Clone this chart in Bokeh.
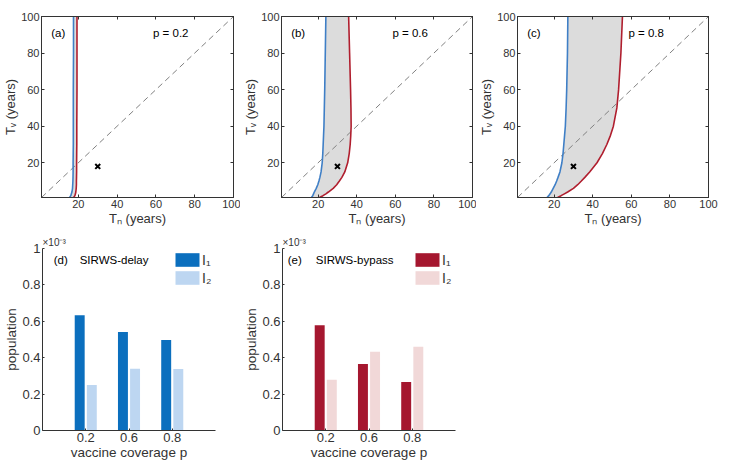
from bokeh.plotting import figure
from bokeh.layouts import column, row
from bokeh.models import (Range1d, LinearAxis, FixedTicker, Label, Legend, LegendItem,
                          NumeralTickFormatter, ColumnDataSource)
from bokeh.transform import dodge
from bokeh.embed import file_html
from bokeh.resources import INLINE

# ---------------- data ----------------
T_GRID = [1, 2, 3, 4, 6, 8, 10, 12, 15, 20, 25, 30, 35, 40, 50, 60, 80, 100]   # T_v (years)
BLUE_A = [15.5, 16.1, 16.4, 16.7, 17.0, 17.1, 17.2, 17.25, 17.3, 17.3, 17.35, 17.4, 17.4,
          17.4, 17.4, 17.4, 17.5, 17.5]
RED_A = [17.6, 18.2, 18.5, 18.7, 18.9, 19.0, 19.0, 19.05, 19.1, 19.1, 19.15, 19.2, 19.2,
         19.2, 19.25, 19.3, 19.3, 19.3]
BLUE_B = [16.5, 17.2, 17.6, 18.0, 19.0, 19.8, 20.4, 20.9, 21.5, 22.1, 22.4, 22.6, 22.8,
          23.0, 23.2, 23.4, 23.7, 24.0]
RED_B = [20.7, 22.5, 24.0, 25.3, 27.8, 29.6, 31.0, 32.3, 33.8, 35.3, 36.1, 36.6, 36.9,
         37.1, 37.0, 36.8, 36.3, 35.8]
BLUE_C = [16.3, 17.2, 17.9, 18.5, 19.5, 20.5, 21.3, 22.0, 23.0, 24.0, 24.6, 25.0, 25.4,
          25.8, 26.2, 26.5, 26.9, 27.1]
RED_C = [21.8, 23.6, 25.3, 27.0, 30.0, 32.2, 34.1, 35.9, 38.4, 42.2, 45.0, 47.3, 49.2,
         50.7, 52.5, 53.4, 54.6, 55.4]
PANEL_TAGS = ["(a)", "(b)", "(c)"]
P_TEXTS = ["p = 0.2", "p = 0.6", "p = 0.8"]
MARK_TN = [30]
MARK_TV = [18]
DIAG = [1, 100]
TOP_TICKS = [20, 40, 60, 80, 100]

COVERAGE = ["0.2", "0.6", "0.8"]
DELAY_I1 = [0.633, 0.541, 0.497]
DELAY_I2 = [0.250, 0.339, 0.338]
BYPASS_I1 = [0.578, 0.365, 0.266]
BYPASS_I2 = [0.279, 0.433, 0.460]
POP_TICKS = [0, 0.2, 0.4, 0.6, 0.8, 1]

FONT = "Liberation Sans"
AXC = "#333333"
BLUE_LINE = "#3f7fc6"
RED_LINE = "#b01e2e"


def style_axis(ax, size="11px"):
    ax.major_label_text_font = FONT
    ax.major_label_text_font_size = size
    ax.major_label_text_color = AXC
    ax.axis_label_text_font = FONT
    ax.axis_label_text_font_style = "normal"
    ax.axis_label_text_color = AXC
    ax.axis_line_color = AXC
    ax.major_tick_line_color = AXC
    ax.major_tick_in = 3
    ax.major_tick_out = 0
    ax.minor_tick_line_color = None
    ax.major_label_standoff = 2
    ax.axis_label_standoff = 0


def top_panel(blue, red, tag, ptext, bl, br, w):
    p = figure(width=w, height=228, x_range=Range1d(1, 100), y_range=Range1d(1, 100),
               output_backend="svg", toolbar_location=None,
               min_border_left=bl, min_border_right=br, min_border_top=16, min_border_bottom=30)
    p.grid.visible = False
    p.outline_line_color = AXC
    p.outline_line_width = 1
    p.xaxis.ticker = FixedTicker(ticks=TOP_TICKS)
    p.yaxis.ticker = FixedTicker(ticks=TOP_TICKS)
    p.xaxis.axis_label = "Tₙ (years)"
    p.yaxis.axis_label = "Tᵥ (years)"
    for ax in p.xaxis + p.yaxis:
        style_axis(ax)
        ax.axis_label_text_font_size = "13px"
    for side in ("above", "right"):
        ax = LinearAxis(ticker=FixedTicker(ticks=TOP_TICKS))
        style_axis(ax)
        ax.major_label_text_font_size = "1px"
        ax.major_label_text_color = None
        ax.major_label_standoff = 0
        p.add_layout(ax, side)

    p.harea(y=T_GRID, x1=blue, x2=red, fill_color="#dcdcdc", fill_alpha=1)
    p.line(DIAG, DIAG, line_color="#808080", line_dash="6 4", line_width=1)
    p.line(blue, T_GRID, line_color=BLUE_LINE, line_width=1.6)
    p.line(red, T_GRID, line_color=RED_LINE, line_width=1.6)
    p.scatter(MARK_TN, MARK_TV, marker="x", size=7, line_width=2, line_color="black")
    p.add_layout(Label(x=6, y=91, text=tag, text_baseline="middle", text_font=FONT,
                       text_font_size="11.5px", text_color="black"))
    p.add_layout(Label(x=58.5, y=91, text=ptext, text_baseline="middle", text_font=FONT,
                       text_font_size="11.5px", text_color="black"))
    return p


def bar_panel(i1, i2, c1, c2, tag, title, tag_x, title_x, bl, br, w):
    xs = list(range(1, len(COVERAGE) + 1))
    src = ColumnDataSource(dict(x=xs, i1=i1, i2=i2))
    p = figure(width=w, height=234, x_range=Range1d(0, len(COVERAGE) + 1), y_range=Range1d(0, 1),
               output_backend="svg", toolbar_location=None,
               min_border_left=bl, min_border_right=br, min_border_top=20, min_border_bottom=32)
    p.title.text = "×10⁻³"
    p.title.align = "left"
    p.title.text_font = FONT
    p.title.text_font_size = "10px"
    p.title.text_font_style = "normal"
    p.title.text_color = AXC
    p.title.standoff = 2
    p.title.offset = 0
    p.grid.visible = False
    p.outline_line_color = None
    p.xaxis.ticker = FixedTicker(ticks=xs)
    p.xaxis.major_label_overrides = {x: c for x, c in zip(xs, COVERAGE)}
    p.yaxis.ticker = FixedTicker(ticks=POP_TICKS)
    p.yaxis.formatter = NumeralTickFormatter(format="0.[0]")
    p.xaxis.axis_label = "vaccine coverage p"
    p.yaxis.axis_label = "population"
    for ax in p.xaxis + p.yaxis:
        style_axis(ax, "13px")
        ax.major_tick_in = 2
        ax.axis_label_text_font_size = "13.5px"
    r1 = p.vbar(x=dodge("x", -0.14), top="i1", width=0.23, source=src,
                fill_color=c1, line_color=None)
    r2 = p.vbar(x=dodge("x", 0.14), top="i2", width=0.23, source=src,
                fill_color=c2, line_color=None)
    leg = Legend(items=[LegendItem(label="I₁", renderers=[r1]),
                        LegendItem(label="I₂", renderers=[r2])],
                 location=(130, 144), border_line_color=None, background_fill_alpha=0,
                 glyph_width=30, glyph_height=17, spacing=1, padding=3, margin=0,
                 label_standoff=0, label_text_font=FONT, label_text_font_size="14px",
                 label_text_color=AXC, label_height=17)
    p.add_layout(leg)
    p.add_layout(Label(x=tag_x, y=0.935, text=tag, text_baseline="middle", text_font=FONT,
                       text_font_size="11.5px", text_color="black"))
    p.add_layout(Label(x=title_x, y=0.935, text=title, text_baseline="middle", text_font=FONT,
                       text_font_size="11.5px", text_color="black"))
    return p


pa = top_panel(BLUE_A, RED_A, PANEL_TAGS[0], P_TEXTS[0], 41, 7, 240)
pb = top_panel(BLUE_B, RED_B, PANEL_TAGS[1], P_TEXTS[1], 38, 4, 236)
pc = top_panel(BLUE_C, RED_C, PANEL_TAGS[2], P_TEXTS[2], 38, 28, 260)

pd = bar_panel(DELAY_I1, DELAY_I2, "#0b6fbe", "#bdd6f1", "(d)", "SIRWS-delay", 0.26, 0.86,
               42, 25, 240)
pe = bar_panel(BYPASS_I1, BYPASS_I2, "#a5172f", "#f1d8d8", "(e)", "SIRWS-bypass", 0.12, 0.77,
               42, 10, 225)

layout = column(row(pa, pb, pc, spacing=0), row(pd, pe, spacing=0), spacing=0)
open("out.html", "w").write(file_html(layout, INLINE))
